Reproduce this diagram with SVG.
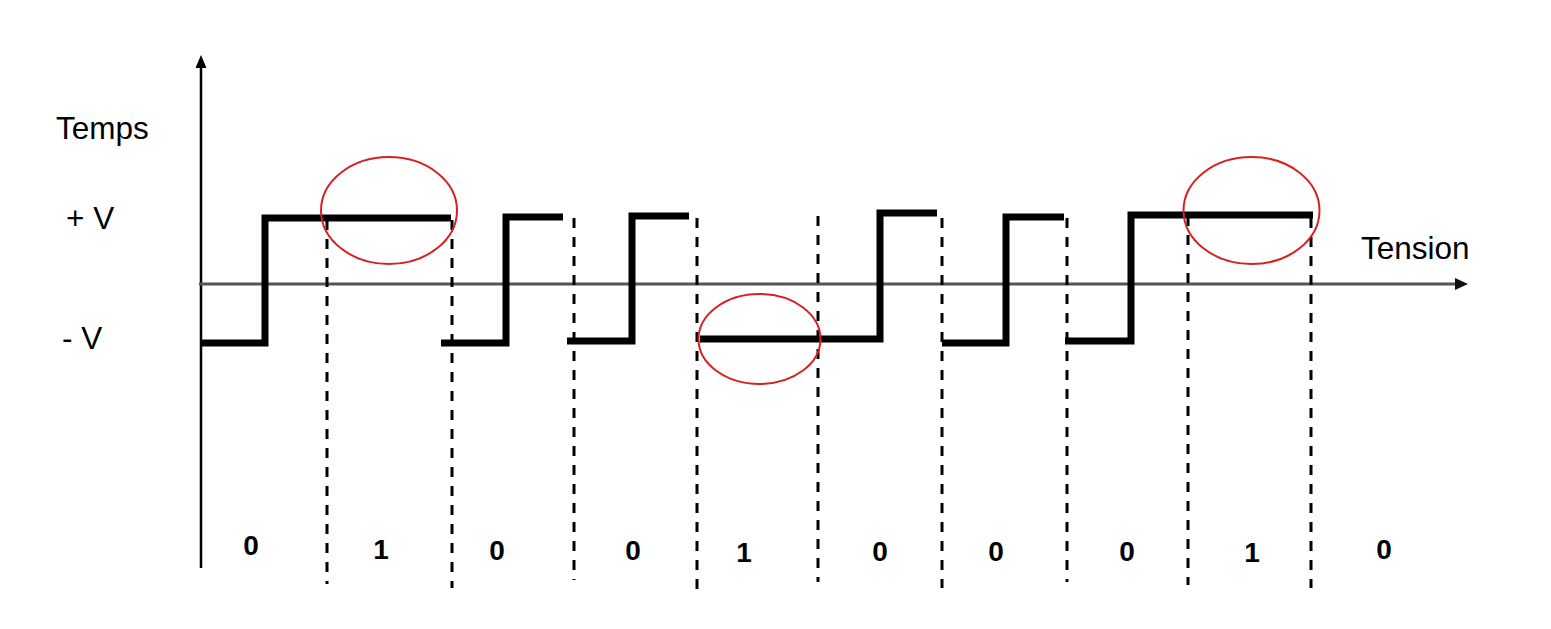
<svg xmlns="http://www.w3.org/2000/svg" width="1551" height="629" viewBox="0 0 1551 629">
<style>
.lbl{font-family:"Liberation Sans",Arial,sans-serif;font-size:31.5px;fill:#000}
.bit{font-family:"Liberation Sans",Arial,sans-serif;font-size:28px;font-weight:bold;fill:#000;text-anchor:middle}
.dash{stroke:#000;stroke-width:3;stroke-dasharray:10 9;fill:none}
.sig{stroke:#000;stroke-width:7;fill:none;stroke-linejoin:miter;stroke-linecap:butt}
.ell{stroke:#d42222;stroke-width:2;fill:none}
</style>
<rect width="1551" height="629" fill="#fff"/>
<g id="axes">
<line x1="201" y1="66" x2="201" y2="568" stroke="#000" stroke-width="2.5"/>
<path d="M201,55 L195.5,68 L206.5,68 Z" fill="#000"/>
<line x1="199" y1="284" x2="1457" y2="284" stroke="#555" stroke-width="3"/>
<path d="M1468,284 L1455,278 L1455,290 Z" fill="#111"/>
</g>
<g id="labels">
<text class="lbl" x="56" y="139">Temps</text>
<text class="lbl" x="66" y="229">+ V</text>
<text class="lbl" x="62" y="349">- V</text>
<text class="lbl" x="1361" y="259">Tension</text>
</g>
<g id="connectors">
<line class="dash" x1="327" y1="220" x2="327" y2="584"/>
<line class="dash" x1="452" y1="220" x2="452" y2="588"/>
<line class="dash" x1="574" y1="218" x2="574" y2="580"/>
<line class="dash" x1="697" y1="218" x2="697" y2="590" stroke="#333"/>
<line class="dash" x1="818" y1="216" x2="818" y2="582"/>
<line class="dash" x1="942" y1="218" x2="942" y2="588" stroke="#444"/>
<line class="dash" x1="1067" y1="218" x2="1067" y2="582"/>
<line class="dash" x1="1188" y1="216" x2="1188" y2="585" stroke="#666"/>
<line class="dash" x1="1311" y1="218" x2="1311" y2="588"/>
</g>
<g id="signal">
<path class="sig" d="M201,343 H265 V218 H451"/>
<path class="sig" d="M441,343 H506 V217 H563"/>
<path class="sig" d="M567,341 H632 V216 H689"/>
<path class="sig" d="M700,339 H880 V213 H937"/>
<path class="sig" d="M942,343 H1006 V217 H1064"/>
<path class="sig" d="M1065,341 H1131 V215 H1313"/>
</g>
<g id="highlights">
<ellipse class="ell" cx="389" cy="210.5" rx="68" ry="53.5"/>
<ellipse class="ell" cx="759.5" cy="339" rx="61" ry="45"/>
<ellipse class="ell" cx="1251.5" cy="210.5" rx="68" ry="53.5"/>
</g>
<g id="bits">
<text class="bit" x="251" y="555">0</text>
<text class="bit" x="381" y="559">1</text>
<text class="bit" x="497" y="560">0</text>
<text class="bit" x="633" y="560">0</text>
<text class="bit" x="744" y="562">1</text>
<text class="bit" x="880" y="561">0</text>
<text class="bit" x="996" y="561">0</text>
<text class="bit" x="1127" y="561">0</text>
<text class="bit" x="1252" y="562">1</text>
<text class="bit" x="1384" y="559">0</text>
</g>
</svg>
